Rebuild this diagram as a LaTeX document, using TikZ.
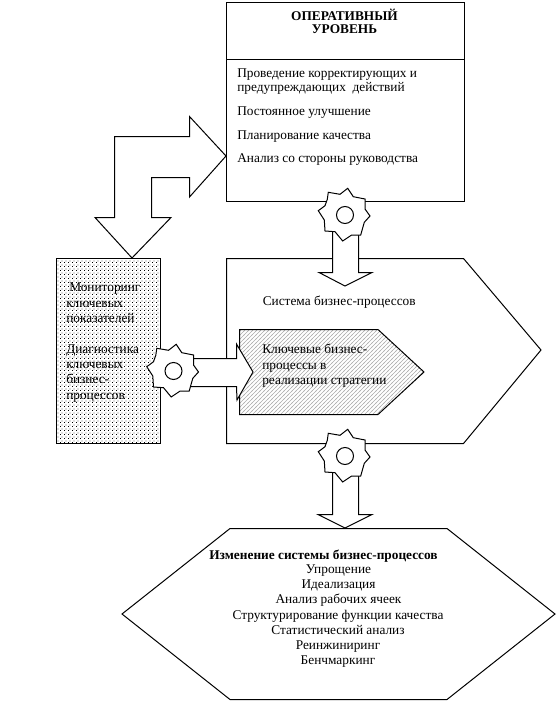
\documentclass[tikz,border=0pt]{standalone}
\usepackage{fontspec}
\setmainfont{Liberation Serif}
\usetikzlibrary{patterns}
\pgfdeclarepatternformonly{stip}{\pgfqpoint{0pt}{0pt}}{\pgfqpoint{3pt}{3pt}}{\pgfqpoint{3pt}{3pt}}{%
  \pgfpathrectangle{\pgfqpoint{0pt}{0pt}}{\pgfqpoint{.8pt}{.8pt}}\pgfpathrectangle{\pgfqpoint{1.5pt}{1.5pt}}{\pgfqpoint{.8pt}{.8pt}}\pgfusepath{fill}}
\pgfdeclarepatternformonly{hatchx}{\pgfqpoint{-.5pt}{-.5pt}}{\pgfqpoint{3.5pt}{3.5pt}}{\pgfqpoint{3pt}{3pt}}{%
  \pgfsetlinewidth{.4pt}\pgfpathmoveto{\pgfqpoint{-.5pt}{-.5pt}}\pgfpathlineto{\pgfqpoint{3.5pt}{3.5pt}}\pgfusepath{stroke}}
\tikzset{
  px/.style={x=.75pt,y=-.75pt},
  shp/.style={draw=black,line width=.75pt,fill=white,line join=miter},
  txt/.style={anchor=base west,inner sep=0pt,font=\fontsize{10pt}{12pt}\selectfont,text=black},
  ctr/.style={anchor=base,inner sep=0pt,font=\fontsize{10pt}{12pt}\selectfont,text=black},
  bld/.style={ctr,font=\fontsize{10pt}{12pt}\selectfont\bfseries},
}
\newcommand{\gearat}[2]{%
  \begin{scope}[shift={(#1,#2)}]
    \draw[shp] (-26.7,-4.3) -- (-20,-9.3) -- (-17.7,-15.7) -- (-16.7,-22.7) -- (-5,-20.7) -- (2.7,-26.7) -- (8.3,-18.3) -- (20,-16) -- (20,-6) -- (25,1) -- (19.3,7.3) -- (15.7,20) -- (6.7,20) -- (-2.3,26) -- (-10,16.7) -- (-20,16) -- (-20.7,5) -- cycle;
    \draw[shp] (0,0) circle [radius=8.5];
  \end{scope}}
\begin{document}
\begin{tikzpicture}[px]
\useasboundingbox (0,0) rectangle (559,703);
\fill[white] (0,0) rectangle (559,703);
% operative level box
\draw[shp] (226.5,2.5) rectangle (464.5,201.5);
\draw[shp] (226.5,59.5) -- (464.5,59.5);
\node[bld] (t1) at (344.5,20) {ОПЕРАТИВНЫЙ};
\node[bld] (t2) at (344.5,33) {УРОВЕНЬ};
\node[txt] (a1) at (237,77) {Проведение корректирующих и};
\node[txt] (a2) at (237,91) {предупреждающих\ \ действий};
\node[txt] (a3) at (237,115) {Постоянное улучшение};
\node[txt] (a4) at (237,139) {Планирование качества};
\node[txt] (a5) at (237,162) {Анализ со стороны руководства};
% bent arrow
\draw[shp] (226,156) -- (189.5,116.5) -- (189.5,136.5) -- (114.5,136.5) -- (114.5,217.5) -- (95,217.5) -- (132,258) -- (171,217.5) -- (151.5,217.5) -- (151.5,177.5) -- (189.5,177.5) -- (189.5,197) -- cycle;
% monitoring box
\fill[white] (56.5,258.5) rectangle (160.5,443.5);
\fill[pattern=stip,pattern color=black] (56.5,258.5) rectangle (160.5,443.5);
\draw[draw=black,line width=.75pt] (56.5,258.5) rectangle (160.5,443.5);
\node[txt] (m1) at (69,291) {Мониторинг};
\node[txt] (m2) at (66,307) {ключевых};
\node[txt] (m3) at (66,322) {показателей};
\node[txt] (m4) at (66,353) {Диагностика};
\node[txt] (m5) at (66,368) {ключевых};
\node[txt] (m6) at (66,383) {бизнес-};
\node[txt] (m7) at (66,399) {процессов};
% process system pentagon
\draw[shp] (226.5,258.5) -- (463.5,258.5) -- (541,350) -- (463.5,443.5) -- (226.5,443.5) -- cycle;
\node[txt] (s1) at (262.5,305) {Система бизнес-процессов};
% key processes
\fill[white] (239.5,329.5) -- (378,329.5) -- (424,372) -- (378,414.5) -- (239.5,414.5) -- cycle;
\fill[pattern=hatchx,pattern color=black!32] (239.5,329.5) -- (378,329.5) -- (424,372) -- (378,414.5) -- (239.5,414.5) -- cycle;
\draw[draw=black,line width=.75pt] (239.5,414.5) -- (378,414.5) -- (424,372) -- (378,329.5) -- (239.5,329.5) -- cycle;
\node[txt] (k1) at (262,353) {Ключевые бизнес-};
\node[txt] (k2) at (262,369) {процессы в};
\node[txt] (k3) at (262,384) {реализации стратегии};
% left arrow
\draw[shp] (190,358.5) -- (236.5,358.5) -- (236.5,344) -- (253,372) -- (237,400) -- (236.5,386.5) -- (190,386.5) -- cycle;
% top arrow
\draw[shp] (332.5,225) -- (332.5,272.5) -- (319,272.5) -- (345,286) -- (372,272.5) -- (358.5,272.5) -- (358.5,225) -- cycle;
% bottom arrow
\draw[shp] (332.5,465) -- (332.5,514.5) -- (318,514.5) -- (345,528) -- (372,514.5) -- (358.5,514.5) -- (358.5,465) -- cycle;
% gears
\gearat{345}{215}
\gearat{173.5}{371}
\gearat{345}{456}
% hexagon
\draw[shp] (230,528.5) -- (447,528.5) -- (555,614) -- (447,699.5) -- (230,699.5) -- (122,614) -- cycle;
\node[bld] (h0) at (323.5,559) {Изменение системы бизнес-процессов};
\node[ctr] (h1) at (338.5,573) {Упрощение};
\node[ctr] (h2) at (338.5,588) {Идеализация};
\node[ctr] (h3) at (338.5,603) {Анализ рабочих ячеек};
\node[ctr] (h4) at (338,619) {Структурирование функции качества};
\node[ctr] (h5) at (338,634) {Статистический анализ};
\node[ctr] (h6) at (338,649) {Реинжиниринг};
\node[ctr] (h7) at (338,664) {Бенчмаркинг};
\end{tikzpicture}
\end{document}
